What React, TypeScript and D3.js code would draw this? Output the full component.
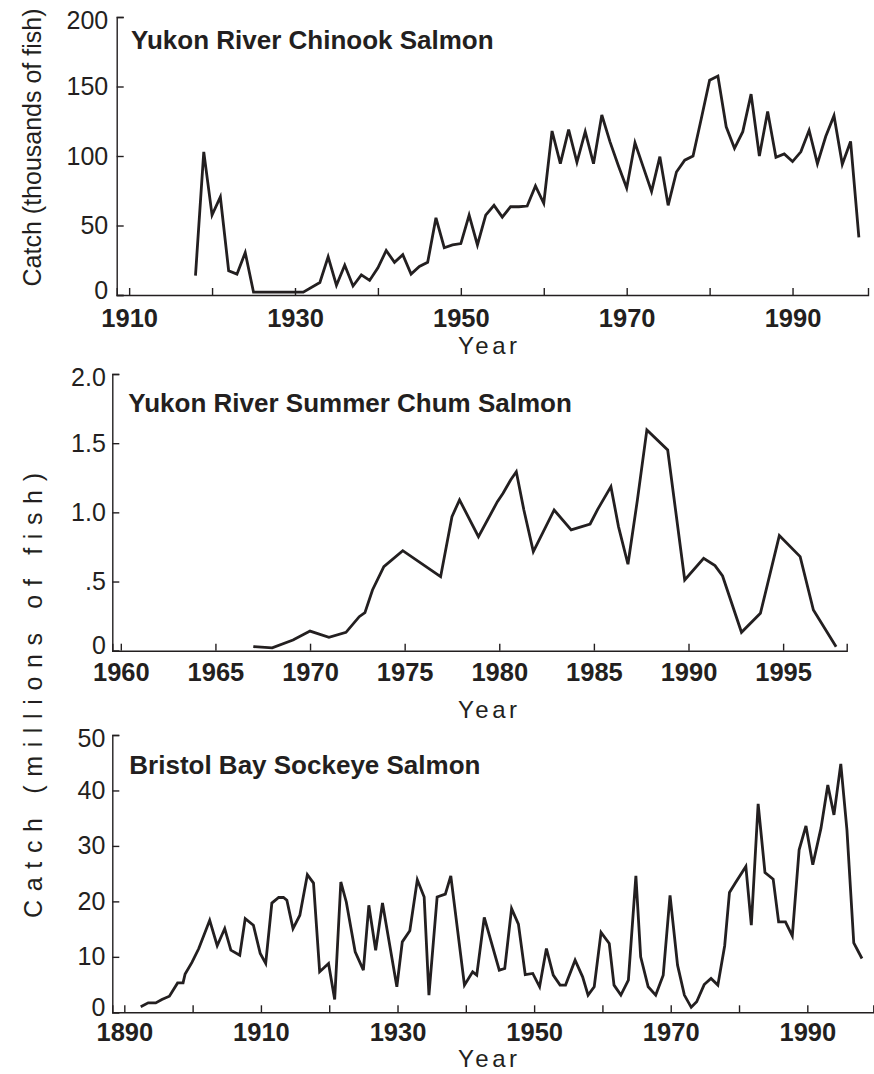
import React, { useEffect, useRef } from 'react';
import * as d3 from 'd3';

const INK = '#231f20';
const FONT = '"Liberation Sans", Arial, Helvetica, sans-serif';

// Yukon River Chinook salmon, thousands of fish
const chinookYears = [
  1918, 1919, 1920, 1921, 1922, 1923, 1924, 1925, 1926, 1927, 1928, 1929, 1930, 1931,
  1933, 1934, 1935, 1936, 1937, 1938, 1939, 1940, 1941, 1942, 1943, 1944, 1945, 1946,
  1947, 1948, 1949, 1950, 1951, 1952, 1953, 1954, 1955, 1956, 1957, 1958, 1959, 1960,
  1961, 1962, 1963, 1964, 1965, 1966, 1967, 1968, 1969, 1970, 1971, 1972, 1973, 1974,
  1975, 1976, 1977, 1978, 1979, 1980, 1981, 1982, 1983, 1984, 1985, 1986, 1987, 1988,
  1989, 1990, 1991, 1992, 1993, 1994, 1995, 1996, 1997, 1998,
];
const chinookCatch = [
  14, 103, 57.5, 70.5, 17.5, 15, 30.5, 2, 2, 2, 2, 2, 2, 2,
  9, 27.5, 7, 21.5, 6.5, 14.5, 10.5, 19.5, 32, 23.5, 29, 15, 20.5, 23.5,
  55.5, 34, 36, 37, 57.5, 36, 57.5, 64.5, 56, 63.5, 63.5, 64, 78.5, 66,
  118, 94.5, 119, 95.5, 117.5, 94.5, 129.5, 110, 93, 77, 109.5, 92, 74.5, 99.5,
  64.5, 88.5, 97, 100, 127, 154.5, 157.5, 121, 105.5, 117.5, 144.5, 100, 132, 99,
  101.5, 96, 103, 118.5, 94.5, 114, 129, 94, 110.5, 41.5,
];

// Yukon River summer chum salmon, millions of fish (positions)
const chumYears = [
  1967.0, 1968.0, 1969.1, 1970.0, 1971.0, 1971.9, 1972.6, 1972.9, 1973.3, 1973.9,
  1974.9, 1976.9, 1977.5, 1977.9, 1978.9, 1979.9, 1980.2, 1980.6, 1980.9, 1981.3,
  1981.8, 1982.9, 1983.8, 1984.8, 1985.2, 1985.9, 1986.3, 1986.8, 1987.3, 1987.8,
  1988.9, 1989.8, 1990.8, 1991.4, 1991.8, 1992.8, 1993.8, 1994.8, 1995.9, 1996.6,
  1997.8,
];
const chumCatch = [
  0.03, 0.02, 0.077, 0.142, 0.097, 0.133, 0.246, 0.275, 0.439, 0.607,
  0.723, 0.535, 0.969, 1.09, 0.824, 1.077, 1.138, 1.234, 1.294, 1.017,
  0.716, 1.017, 0.873, 0.916, 1.022, 1.186, 0.897, 0.625, 1.09, 1.596,
  1.451, 0.511, 0.668, 0.615, 0.54, 0.133, 0.27, 0.832, 0.68, 0.294,
  0.029,
];

// Bristol Bay sockeye salmon, millions of fish
const sockeyeYears = [
  1892.4, 1893.5, 1894.6, 1895.5, 1896.6, 1897.8, 1898.6, 1898.9, 1899.9, 1900.9,
  1902.5, 1903.6, 1904.7, 1905.6, 1906.9, 1907.7, 1908.9, 1909.9, 1910.7, 1911.6,
  1912.6, 1913.3, 1913.8, 1914.7, 1915.7, 1916.8, 1917.7, 1918.6, 1919.9, 1920.8,
  1921.7, 1922.5, 1923.8, 1925.0, 1925.8, 1926.8, 1927.8, 1929.9, 1930.7, 1931.8,
  1932.9, 1933.9, 1934.6, 1935.8, 1937.0, 1937.8, 1939.8, 1941.0, 1941.6, 1942.7,
  1944.9, 1945.7, 1946.7, 1947.7, 1948.7, 1949.8, 1950.8, 1951.8, 1952.8, 1953.8,
  1954.6, 1956.0, 1957.1, 1957.9, 1958.8, 1959.8, 1961.0, 1961.7, 1962.7, 1963.8,
  1964.9, 1965.6, 1966.7, 1967.8, 1968.9, 1969.9, 1971.0, 1972.0, 1973.0, 1973.8,
  1974.9, 1975.9, 1976.9, 1977.9, 1978.6, 1979.5, 1981.0, 1981.8, 1982.8, 1983.8,
  1985.0, 1985.8, 1986.8, 1987.8, 1988.8, 1989.8, 1990.8, 1992.0, 1993.0, 1993.9,
  1994.9, 1995.8, 1996.8, 1998.0,
];
const sockeyeCatch = [
  1.0, 1.7, 1.7, 2.3, 2.9, 5.3, 5.3, 6.9, 9.0, 11.5,
  16.6, 12.0, 15.1, 11.2, 10.3, 16.9, 15.7, 10.6, 8.8, 19.7,
  20.7, 20.7, 20.2, 15.1, 17.5, 24.8, 23.3, 7.3, 8.8, 2.3,
  23.5, 19.9, 10.9, 7.6, 19.3, 11.2, 19.7, 4.6, 12.7, 14.7,
  23.9, 20.8, 3.1, 20.8, 21.3, 24.6, 4.9, 7.3, 6.7, 17.1,
  7.6, 7.9, 18.7, 15.9, 6.8, 7.0, 4.6, 11.5, 6.7, 4.9,
  4.9, 9.4, 6.4, 3.1, 4.6, 14.4, 12.4, 4.9, 3.1, 5.8,
  24.6, 10.0, 4.6, 3.1, 6.7, 21.1, 8.5, 3.1, 0.9, 1.9,
  5.0, 6.1, 4.9, 12.0, 21.6, 23.4, 26.3, 15.7, 37.6, 25.2,
  24.0, 16.3, 16.3, 13.8, 29.3, 33.6, 26.6, 33.2, 41.0, 35.6,
  44.8, 32.9, 12.5, 9.7,
];

// ticks and labels
const chinookXTicks = [1910, 1920, 1930, 1940, 1950, 1960, 1970, 1980, 1990];
const chinookXLabels = [1910, 1930, 1950, 1970, 1990];
const chinookYTicks = [0, 50, 100, 150, 200];
const chumXTicks = [1960, 1965, 1970, 1975, 1980, 1985, 1990, 1995];
const chumYTicks = [0, 0.5, 1, 1.5, 2];
const chumYLabels = ['0', '.5', '1.0', '1.5', '2.0'];
const sockeyeXTicks = [1890, 1900, 1910, 1920, 1930, 1940, 1950, 1960, 1970, 1980, 1990];
const sockeyeXLabels = [1890, 1910, 1930, 1950, 1970, 1990];
const sockeyeYTicks = [0, 10, 20, 30, 40, 50];

type Panel = {
  title: string;
  years: number[];
  values: number[];
  xDomain: [number, number];
  yDomain: [number, number];
  left: number; right: number; top: number; bottom: number;
  xTicks: number[];
  xLabel: (d: number) => string;
  yTicks: number[];
  yLabel: (d: number, i: number) => string;
  xPad: number; yPad: number;
  titleX: number; titleY: number;
  yearY: number;
};

const panels: Panel[] = [
  {
    title: 'Yukon River Chinook Salmon',
    years: chinookYears, values: chinookCatch,
    xDomain: [1908.5, 1999.1], yDomain: [0, 200],
    left: 116.7, right: 868, top: 17, bottom: 295,
    xTicks: chinookXTicks,
    xLabel: (d) => (chinookXLabels.includes(d) ? String(d) : ''),
    yTicks: chinookYTicks,
    yLabel: (d) => String(d),
    xPad: 14, yPad: 8.5,
    titleX: 131, titleY: 49,
    yearY: 354,
  },
  {
    title: 'Yukon River Summer Chum Salmon',
    years: chumYears, values: chumCatch,
    xDomain: [1959.55, 1998.36], yDomain: [0, 2],
    left: 112.3, right: 846.7, top: 374, bottom: 650.7,
    xTicks: chumXTicks,
    xLabel: (d) => String(d),
    yTicks: chumYTicks,
    yLabel: (d, i) => chumYLabels[i],
    xPad: 12, yPad: 6.5,
    titleX: 128.3, titleY: 411.5,
    yearY: 718,
  },
  {
    title: 'Bristol Bay Sockeye Salmon',
    years: sockeyeYears, values: sockeyeCatch,
    xDomain: [1888.24, 1999.66], yDomain: [0, 50],
    left: 112.3, right: 873.3, top: 735, bottom: 1012.3,
    xTicks: sockeyeXTicks,
    xLabel: (d) => (sockeyeXLabels.includes(d) ? String(d) : ''),
    yTicks: sockeyeYTicks,
    yLabel: (d) => String(d),
    xPad: 11, yPad: 7,
    titleX: 129.3, titleY: 774,
    yearY: 1067,
  },
];

function drawPanel(svg: d3.Selection<SVGSVGElement, unknown, null, undefined>, p: Panel) {
  const x = d3.scaleLinear().domain(p.xDomain).range([p.left, p.right]);
  const y = d3.scaleLinear().domain(p.yDomain).range([p.bottom, p.top]);
  const g = svg.append('g');

  const xAxis = d3.axisBottom(x)
    .tickValues(p.xTicks)
    .tickSizeInner(-7)
    .tickSizeOuter(-7)
    .tickPadding(p.xPad)
    .tickFormat((d) => p.xLabel(+d));
  const gx = g.append('g').attr('transform', `translate(0,${p.bottom})`).call(xAxis);
  gx.selectAll('text')
    .attr('font-weight', 'bold')
    .attr('font-size', 25.5)
    .attr('font-family', FONT)
    .attr('fill', INK);

  const yAxis = d3.axisLeft(y)
    .tickValues(p.yTicks)
    .tickSizeInner(-7)
    .tickSizeOuter(-7)
    .tickPadding(p.yPad)
    .tickFormat((d, i) => p.yLabel(+d, i));
  const gy = g.append('g').attr('transform', `translate(${p.left},0)`).call(yAxis);
  gy.selectAll<SVGTextElement, number>('text')
    .attr('font-size', 25)
    .attr('font-family', FONT)
    .attr('fill', INK)
    // the zero label sits a little above the x labels, the top one a little lower
    .attr('y', (d) => (d === p.yDomain[0] ? -5 : d === p.yDomain[1] ? 3 : 0));

  g.selectAll('.domain, .tick line')
    .attr('stroke', INK)
    .attr('stroke-width', 1.4);

  const line = d3.line<number>()
    .x((d, i) => x(p.years[i]))
    .y((d) => y(d));

  g.append('path')
    .datum(p.values)
    .attr('d', line)
    .attr('fill', 'none')
    .attr('stroke', INK)
    .attr('stroke-width', 2.8);

  g.append('text')
    .attr('x', p.titleX)
    .attr('y', p.titleY)
    .attr('font-family', FONT)
    .attr('font-weight', 'bold')
    .attr('font-size', 26)
    .attr('fill', INK)
    .text(p.title);

  g.append('text')
    .attr('x', 487.5)
    .attr('y', p.yearY)
    .attr('text-anchor', 'middle')
    .attr('font-family', FONT)
    .attr('font-size', 24)
    .attr('fill', INK)
    .attr('textLength', 59)
    .attr('lengthAdjust', 'spacing')
    .text('Year');
}

export default function App() {
  const ref = useRef<SVGSVGElement>(null);

  useEffect(() => {
    const svg = d3.select(ref.current!);
    svg.selectAll('*').remove();

    svg.append('rect').attr('width', 874).attr('height', 1074).attr('fill', '#fff');

    panels.forEach((p) => drawPanel(svg, p));

    // y-axis titles
    svg.append('text')
      .attr('transform', 'translate(41,147.5) rotate(-90)')
      .attr('text-anchor', 'middle')
      .attr('font-family', FONT)
      .attr('font-size', 25)
      .attr('fill', INK)
      .text('Catch (thousands of fish)');

    svg.append('text')
      .attr('transform', 'translate(41.5,695.5) rotate(-90)')
      .attr('text-anchor', 'middle')
      .attr('font-family', FONT)
      .attr('font-size', 25)
      .attr('fill', INK)
      .attr('textLength', 445)
      .attr('lengthAdjust', 'spacing')
      .text('Catch (millions of fish)');
  }, []);

  return (
    <svg
      ref={ref}
      width={874}
      height={1074}
      style={{ position: 'absolute', left: 0, top: 0, display: 'block' }}
    />
  );
}
